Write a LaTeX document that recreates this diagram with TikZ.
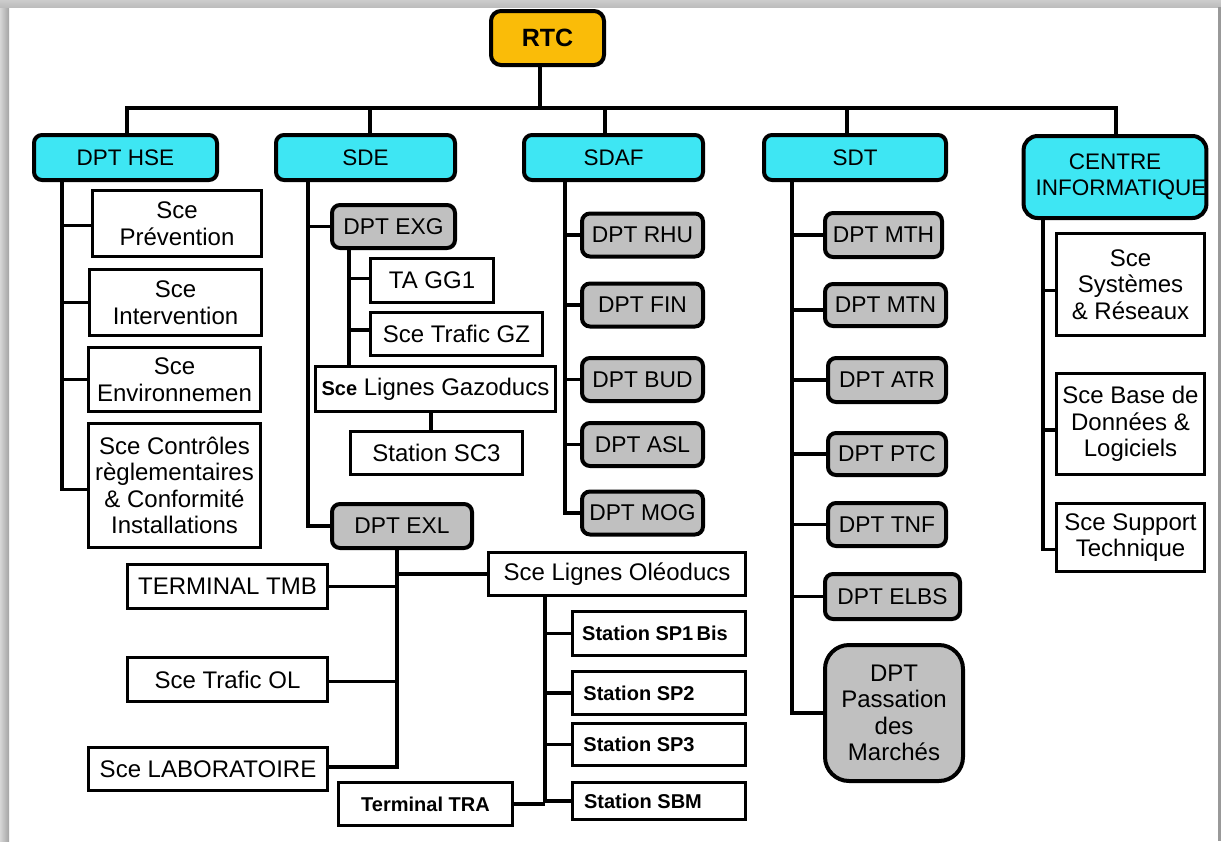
\documentclass[tikz,border=0pt]{standalone}
\usepackage{fontspec}
\setmainfont{Liberation Sans}
\usetikzlibrary{calc}
\definecolor{headcyan}{RGB}{62,230,243}
\definecolor{deptgray}{RGB}{192,192,192}
\definecolor{rootorange}{RGB}{250,188,8}
\begin{document}
\begin{tikzpicture}[x=0.5pt,y=-0.5pt,
  link/.style={line width=1.7pt},
  base/.style={draw=black, inner sep=0pt, align=center,
    font=\fontsize{12pt}{13.25pt}\selectfont},
  svc/.style={base, line width=1.5pt, fill=white},
  rbox/.style={base, line width=2pt, rounded corners=4pt},
  head/.style={rbox, fill=headcyan, font=\fontsize{11.25pt}{13pt}\selectfont},
  dept/.style={rbox, fill=deptgray, font=\fontsize{11.4pt}{13.25pt}\selectfont},
  stn/.style={svc, font=\bfseries\fontsize{10pt}{12pt}\selectfont},
]
\useasboundingbox (0,0) rectangle (1221,841);
\fill[white] (0,0) rectangle (1221,841);
% page frame
\shade[left color=black!16, right color=black!36] (0,0) rectangle (9,841);
\shade[top color=black!20, bottom color=black!26] (0,0) rectangle (1221,7);
\fill[black!40] (1218,7) rectangle (1221,841);

% root
\node[rbox, fill=rootorange, rounded corners=5pt, minimum width=56.5pt, minimum height=27pt,
  font=\bfseries\fontsize{12.5pt}{14pt}\selectfont] (rtc) at (547.5,38) {RTC};

% first level
\node[head, minimum width=91.5pt, minimum height=22.5pt] (hse) at (125.5,157.5) {DPT HSE};
\node[head, minimum width=89.5pt, minimum height=22.5pt] (sde) at (365.5,157.5) {SDE};
\node[head, minimum width=89.5pt, minimum height=22.5pt] (sdaf) at (613.5,157.5) {SDAF};
\node[head, minimum width=91pt, minimum height=22.5pt] (sdt) at (855,157.5) {SDT};
\node[head, rounded corners=7pt, minimum width=90pt, minimum height=41pt] (ci) at (1115,177)
  {CENTRE\\\hspace*{6pt}INFORMATIQUE};

\coordinate (rtcdrop) at (540,108);
\coordinate (barL) at (127,108);
\coordinate (barR) at (1116,108);
\coordinate (dropB) at (370,108);
\coordinate (dropC) at (605,108);
\coordinate (dropD) at (847,108);
\draw[link] (rtcdrop |- rtc.south) -- (rtcdrop);
\draw[link] (barL |- hse.north) -- (barL) -- (barR) -- (barR |- ci.north);
\draw[link] (dropB) -- (dropB |- sde.north);
\draw[link] (dropC) -- (dropC |- sdaf.north);
\draw[link] (dropD) -- (dropD |- sdt.north);

% DPT HSE services
\node[svc, minimum width=84.5pt, minimum height=33pt] (prev) at (177,223.5) {Sce\\Prévention};
\node[svc, minimum width=86pt, minimum height=33pt] (interv) at (175.5,302.5) {Sce\\Intervention};
\node[svc, minimum width=86pt, minimum height=32pt] (envir) at (174.5,379.5) {Sce\\Environnemen};
\node[svc, minimum width=86pt, minimum height=62pt] (ctrl) at (174.5,485.5)
  {Sce Contrôles\\règlementaires\\\& Conformité\\Installations};
\coordinate (hsebus) at (62,0);
\coordinate (prevIn) at ([yshift=-1pt]prev.west);
\coordinate (ctrlIn) at ([yshift=-2pt]ctrl.west);
\draw[link] (hsebus |- hse.south) |- (ctrlIn);
\draw[link] (hsebus |- prevIn) -- (prevIn);
\draw[link] (hsebus |- interv.west) -- (interv.west);
\draw[link] (hsebus |- envir.west) -- (envir.west);

% SDE branch
\node[dept, minimum width=61.5pt, minimum height=21.5pt] (exg) at (393.5,226.5) {DPT EXG};
\node[svc, minimum width=61.5pt, minimum height=22pt] (tagg) at (432,280.5) {TA GG1};
\node[svc, minimum width=86pt, minimum height=21.5pt] (trgz) at (456.5,334) {Sce Trafic GZ};
\node[svc, minimum width=120pt, minimum height=22.5pt] (lgaz) at (435.5,389)
  {{\bfseries\fontsize{10pt}{12pt}\selectfont Sce} Lignes Gazoducs};
\node[svc, minimum width=86pt, minimum height=21.5pt] (sc3) at (436.5,453) {Station SC3};
\node[dept, minimum width=70pt, minimum height=22pt] (exl) at (402,526) {DPT EXL};
\coordinate (sdebus) at (308,0);
\draw[link] (sdebus |- sde.south) |- (exl.west);
\draw[link] (sdebus |- exg.west) -- (exg.west);
\coordinate (exgbus) at (349,0);
\coordinate (taggIn) at ([yshift=1pt]tagg.west);
\coordinate (trgzIn) at ([yshift=2pt]trgz.west);
\draw[link] (exgbus |- exg.south) -- (exgbus |- lgaz.north);
\draw[link] (exgbus |- taggIn) -- (taggIn);
\draw[link] (exgbus |- trgzIn) -- (trgzIn);
\coordinate (gazdrop) at (431,0);
\draw[link] (gazdrop |- lgaz.south) -- (gazdrop |- sc3.north);

% DPT EXL services
\node[svc, minimum width=100pt, minimum height=22pt] (tmb) at (227.5,586.5) {TERMINAL TMB};
\node[svc, minimum width=100pt, minimum height=22pt] (trol) at (227.5,679.5) {Sce Trafic OL};
\node[svc, minimum width=119.5pt, minimum height=21.5pt] (labo) at (208,769) {Sce LABORATOIRE};
\node[svc, minimum width=128.5pt, minimum height=21.5pt] (lole) at (617,574) {Sce Lignes Oléoducs};
\coordinate (exlbus) at (397,0);
\coordinate (laboIn) at ([yshift=1pt]labo.east);
\coordinate (trolIn) at ([yshift=-1pt]trol.east);
\draw[link] (exlbus |- exl.south) |- (laboIn);
\draw[link] (exlbus |- tmb.east) -- (tmb.east);
\draw[link] (exlbus |- trolIn) -- (trolIn);
\draw[link] (exlbus |- lole.west) -- (lole.west);

% stations on the oil lines
\node[stn, minimum width=86.5pt, minimum height=22pt] (sp1) at (659,633.5) {Station SP1\,Bis\hspace*{4pt}};
\node[stn, minimum width=86.5pt, minimum height=21.5pt] (sp2) at (659,693) {Station SP2\hspace*{20pt}};
\node[stn, minimum width=86.5pt, minimum height=21pt] (sp3) at (659,744.5) {Station SP3\hspace*{20pt}};
\node[stn, minimum width=86.5pt, minimum height=18.5pt] (sbm) at (659,801) {Station SBM\hspace*{16pt}};
\node[stn, minimum width=87pt, minimum height=21.5pt] (tra) at (425.5,804) {Terminal TRA};
\coordinate (olebus) at (545,0);
\draw[link] (olebus |- lole.south) |- (sbm.west);
\draw[link] (olebus |- sp1.west) -- (sp1.west);
\draw[link] (olebus |- sp2.west) -- (sp2.west);
\draw[link] (olebus |- sp3.west) -- (sp3.west);
\draw[link] (tra.east) -- (olebus |- tra.east);

% SDAF departments
\node[dept, minimum width=60.5pt, minimum height=21.5pt] (rhu) at (642.5,235) {DPT RHU};
\node[dept, minimum width=60.5pt, minimum height=21.5pt] (fin) at (642.5,305) {DPT FIN};
\node[dept, minimum width=60.5pt, minimum height=21.5pt] (bud) at (642.5,379.5) {DPT BUD};
\node[dept, minimum width=60.5pt, minimum height=21.5pt] (asl) at (642.5,444.5) {DPT ASL};
\node[dept, minimum width=60.5pt, minimum height=21.5pt] (mog) at (642.5,513) {DPT MOG};
\coordinate (sdafbus) at (565,0);
\draw[link] (sdafbus |- sdaf.south) |- (mog.west);
\foreach \d in {rhu,fin,bud,asl} \draw[link] (sdafbus |- \d.west) -- (\d.west);

% SDT departments
\node[dept, minimum width=58.5pt, minimum height=22pt] (mth) at (883.5,235) {DPT MTH};
\node[dept, minimum width=60.5pt, minimum height=21pt] (mtn) at (885.5,305) {DPT MTN};
\node[dept, minimum width=59pt, minimum height=22pt] (atr) at (887,380) {DPT ATR};
\node[dept, minimum width=59pt, minimum height=21pt] (ptc) at (887,454) {DPT PTC};
\node[dept, minimum width=59pt, minimum height=21.5pt] (tnf) at (887,524.5) {DPT TNF};
\node[dept, minimum width=67.5pt, minimum height=22.5pt] (elbs) at (892.5,596.5) {DPT ELBS};
\node[dept, rounded corners=12pt, minimum width=69pt, minimum height=68pt,
  font=\fontsize{12pt}{13.25pt}\selectfont] (pm) at (894,713) {DPT\\Passation\\des\\Marchés};
\coordinate (sdtbus) at (792,0);
\coordinate (mtnIn) at ([yshift=-2.5pt]mtn.west);
\draw[link] (sdtbus |- sdt.south) |- (pm.west);
\foreach \d in {mth,atr,ptc,tnf,elbs} \draw[link] (sdtbus |- \d.west) -- (\d.west);
\draw[link] (sdtbus |- mtnIn) -- (mtnIn);

% computing centre services
\node[svc, minimum width=74pt, minimum height=51pt] (sysr) at (1130.5,284.5) {Sce\\Systèmes\\\& Réseaux};
\node[svc, minimum width=74pt, minimum height=50.5pt] (bdd) at (1130.5,424) {Sce Base de\\Données \&\\Logiciels};
\node[svc, minimum width=74pt, minimum height=34pt] (supp) at (1130.5,537.5) {Sce Support\\Technique};
\coordinate (cibus) at (1043,0);
\coordinate (sysrIn) at ([yshift=-3pt]sysr.west);
\coordinate (bddIn) at ([yshift=-3pt]bdd.west);
\coordinate (suppIn) at ([yshift=-6pt]supp.west);
\draw[link] (cibus |- ci.south) |- (suppIn);
\draw[link] (cibus |- sysrIn) -- (sysrIn);
\draw[link] (cibus |- bddIn) -- (bddIn);
\end{tikzpicture}
\end{document}
